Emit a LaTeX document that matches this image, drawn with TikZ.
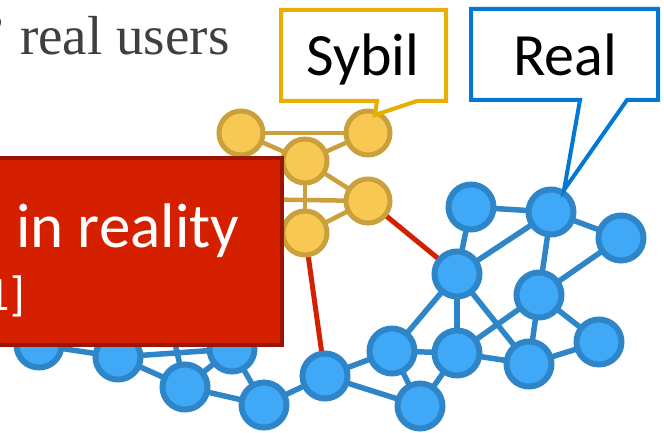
\documentclass[tikz,border=0pt]{standalone}
\usepackage{fontspec}
\setmainfont{Liberation Serif}
\newfontfamily\calib{Carlito}
\usetikzlibrary{backgrounds}
\definecolor{bfill}{HTML}{40A9F7}
\definecolor{bdark}{HTML}{2E86C8}
\definecolor{yfill}{HTML}{F7C952}
\definecolor{ydark}{HTML}{C9A03C}
\definecolor{redline}{HTML}{D42000}
\definecolor{boxfill}{HTML}{D52000}
\definecolor{boxdark}{HTML}{9C1500}
\definecolor{sybilc}{HTML}{E8AE00}
\definecolor{realc}{HTML}{0078D4}
\definecolor{graytext}{HTML}{3F3F3F}
\begin{document}
\begin{tikzpicture}[x=1pt,y=-1pt,
  bnode/.style={circle,draw=bdark,fill=bfill,line width=6pt,minimum size=45pt,inner sep=0pt},
  ynode/.style={circle,draw=ydark,fill=yfill,line width=5pt,minimum size=44pt,inner sep=0pt},
  bedge/.style={draw=bdark,line width=5.5pt},
  yedge/.style={draw=ydark,line width=4.5pt},
  redge/.style={draw=redline,line width=5pt},
  callout/.style={fill=white,line width=4pt,line join=miter},
  lbl/.style={inner sep=0pt,font=\calib\fontsize{60}{60}\selectfont,text=black}
]
\useasboundingbox (0,0) rectangle (664,433);
\clip (0,0) rectangle (664,433);

% top text
\node[anchor=base west,inner sep=0pt,text=graytext,font=\fontsize{55}{55}\selectfont] (top) at (-12,55) {’ real users};

% real (blue) nodes
\node[bnode] (J) at (471,207) {};
\node[bnode] (K) at (551,212) {};
\node[bnode] (C) at (621,238) {};
\node[bnode] (A) at (457,274) {};
\node[bnode] (B) at (539,295) {};
\node[bnode] (D) at (392,351) {};
\node[bnode] (E) at (457,353) {};
\node[bnode] (F) at (529,364) {};
\node[bnode] (G) at (599,342) {};
\node[bnode] (H) at (420,406) {};
\node[bnode] (I) at (325,376) {};
\node[bnode] (P) at (264,405) {};
\node[bnode] (O) at (232,349) {};
\node[bnode] (N) at (185,387) {};
\node[bnode] (M) at (118,357) {};
\node[bnode] (L) at (39,345) {};
\node[bnode] (X) at (165,300) {};

% sybil (yellow) nodes
\node[ynode] (S1) at (241,133) {};
\node[ynode] (S2) at (305,161) {};
\node[ynode] (S3) at (368,133) {};
\node[ynode] (S4) at (368,201) {};
\node[ynode] (S5) at (305,233) {};
\node[ynode] (S6) at (241,199) {};

\begin{scope}[on background layer]
  \foreach \a/\b in {J/K,J/A,A/K,K/C,K/B,B/C,A/D,A/E,A/F,B/E,B/F,B/G,F/G,D/E,E/F,D/H,E/H,D/I,I/H,I/P,P/O,P/N,N/O,N/M,M/O,M/L,N/X}
    \draw[bedge] (\a.center) -- (\b.center);
  \foreach \a/\b in {S1/S3,S1/S2,S2/S3,S2/S4,S2/S5,S4/S5,S6/S4,S6/S5}
    \draw[yedge] (\a.center) -- (\b.center);
  \draw[redge] (S5.center) -- (I.center);
  \draw[redge] (S4.center) -- (A.center);
\end{scope}

% red box
\draw[fill=boxfill,draw=boxdark,line width=4pt] (-10,158) rectangle (282,345);
\node[anchor=base west,inner sep=0pt,text=white,font=\calib\fontsize{63}{63}\selectfont] (reality) at (16,247) {in reality};
\node[anchor=base east,inner sep=0pt,text=white,font=\calib\fontsize{48}{48}\selectfont] (cite) at (25,310) {1]};

% Sybil callout
\draw[callout,draw=sybilc] (281,10) -- (446,10) -- (446,101) -- (417,101) -- (375,115) -- (377,101) -- (281,101) -- cycle;
\node[lbl,anchor=base] (sybil) at (363,76) {Sybil};

% Real callout
\draw[callout,draw=realc] (471,9) -- (658,9) -- (658,100) -- (627,100) -- (564,190) -- (580,100) -- (471,100) -- cycle;
\node[lbl,anchor=base] (real) at (565,76) {Real};
\end{tikzpicture}
\end{document}
